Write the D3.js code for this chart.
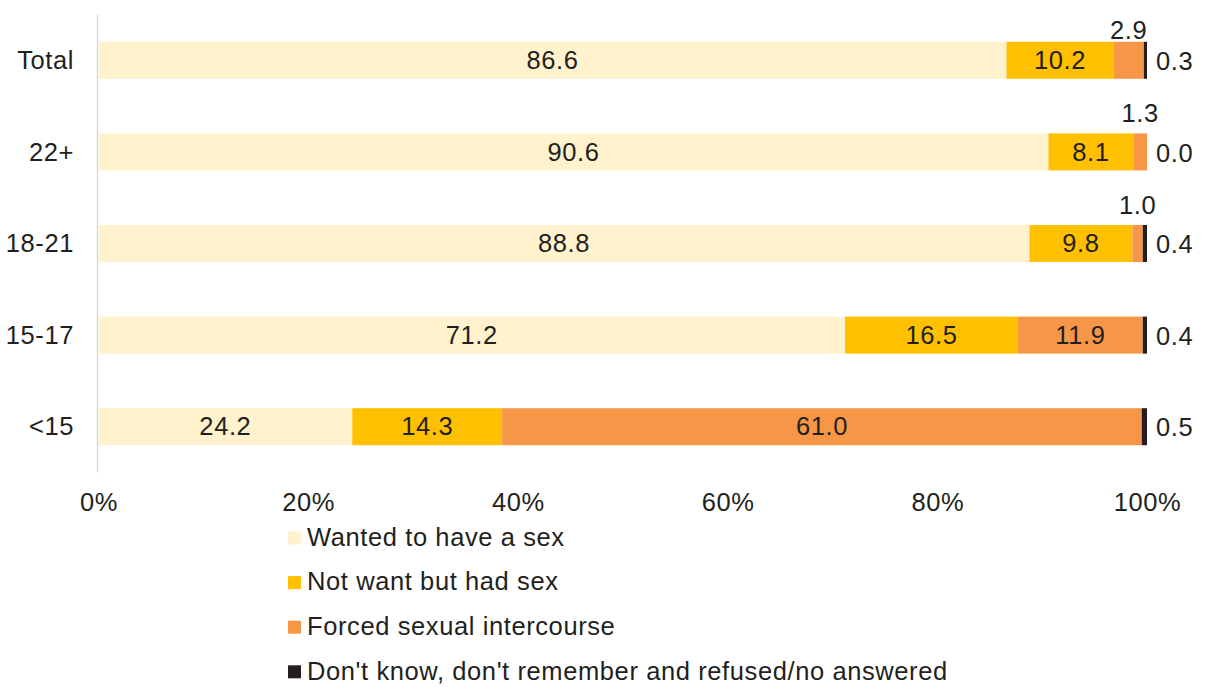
<!DOCTYPE html>
<html><head><meta charset="utf-8">
<script src="https://cdn.jsdelivr.net/npm/d3@7"></script>
<style>body{margin:0;background:#fff}svg{display:block}text{font-family:"Liberation Sans",Arial,sans-serif;fill:#231f20;letter-spacing:0.6px}</style>
</head><body><svg id="c" width="1209" height="687"></svg>
<script>
const categories = ["Total","22+","18-21","15-17","<15"];
const seriesNames = ["Wanted to have a sex","Not want but had sex","Forced sexual intercourse","Don't know, don't remember and refused/no answered"];
const wanted = [86.6, 90.6, 88.8, 71.2, 24.2];
const notWant = [10.2, 8.1, 9.8, 16.5, 14.3];
const forced = [2.9, 1.3, 1.0, 11.9, 61.0];
const dontKnow = [0.3, 0.0, 0.4, 0.4, 0.5];
const tickLabels = ["0%","20%","40%","60%","80%","100%"];
const colors = ["#fff2cc","#ffc000","#f79646","#231f20"];

const svg = d3.select("#c");
const x = d3.scaleLinear().domain([0,100]).range([98.5,1147]);
const y = d3.scaleBand().domain(categories).range([14.5,472.5]).paddingInner(0.596).paddingOuter(0.298);
const series = [wanted, notWant, forced, dontKnow];
const FS = 25.5;

svg.append("line").attr("x1",97.5).attr("x2",97.5).attr("y1",14.5).attr("y2",472.5)
  .attr("stroke","#d9d9d9").attr("stroke-width",1.5);

categories.forEach((cat,i)=>{
  let acc = 0;
  series.forEach((s,k)=>{
    const v = s[i];
    const x0 = x(acc), x1 = x(acc+v);
    svg.append("rect").attr("x",x0).attr("y",y(cat)).attr("width",Math.max(0,x1-x0)).attr("height",y.bandwidth())
      .attr("fill",colors[k]);
    const cy = y(cat)+y.bandwidth()/2;
    if(k===3){
      svg.append("text").attr("x",x(100)+9).attr("y",cy+3).attr("dominant-baseline","middle")
        .attr("font-size",FS).text(v.toFixed(1));
    } else if(v>=5){
      svg.append("text").attr("x",(x0+x1)/2).attr("y",cy+2).attr("dominant-baseline","middle")
        .attr("text-anchor","middle").attr("font-size",FS).text(v.toFixed(1));
    } else {
      const off = i===0 ? 3 : 11;
      svg.append("text").attr("x",(x0+x1)/2).attr("y",y(cat)-off)
        .attr("text-anchor","middle").attr("font-size",FS).text(v.toFixed(1));
    }
    acc += v;
  });
  svg.append("text").attr("x",74).attr("y",y(cat)+y.bandwidth()/2+2).attr("dominant-baseline","middle")
    .attr("text-anchor","end").attr("font-size",FS).text(cat);
});

const xa = svg.append("g").attr("transform","translate(0,488)")
  .call(d3.axisBottom(x).tickValues([0,20,40,60,80,100]).tickSize(0).tickPadding(0).tickFormat((d,i)=>tickLabels[i]));
xa.select(".domain").remove();
xa.selectAll("text").attr("font-size",FS).attr("font-family","Liberation Sans, Arial, sans-serif").attr("fill","#231f20").attr("dy","0.9em");

const lg = svg.append("g");
seriesNames.forEach((n,k)=>{
  const cy = 538 + k*44.6;
  lg.append("rect").attr("x",288).attr("y",cy-6.5).attr("width",13).attr("height",13).attr("fill",colors[k]);
  lg.append("text").attr("x",307).attr("y",cy+1).attr("dominant-baseline","middle").attr("font-size",FS).text(n);
});
</script></body></html>
